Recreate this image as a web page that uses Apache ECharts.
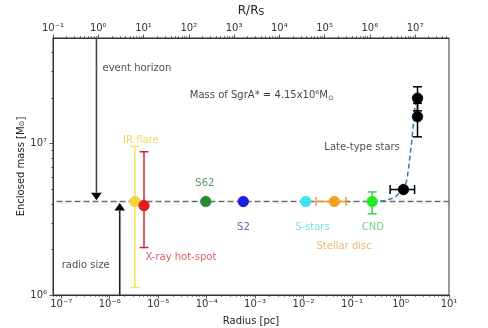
<!DOCTYPE html>
<html>
<head>
<meta charset="utf-8">
<script src="https://cdn.jsdelivr.net/npm/echarts@6/dist/echarts.min.js"></script>
<style>
  html, body { margin: 0; padding: 0; background: #fff; }
  #chart { width: 488px; height: 328px; }
</style>
</head>
<body>
<div id="chart"></div>
<script>
// Enclosed mass around Sgr A* as a function of radius, from different tracers.

const FONT = 'DejaVu Sans';
const MASS_SGRA = 4.15e6;           // [Msun]

// Tracers: radius [pc], enclosed mass [Msun] and their uncertainties
const tracerNames    = ['IR flare', 'X-ray hot-spot', 'S62', 'S2', 'S-stars', 'Stellar disc', 'CND'];
const tracerRadius   = [3.3e-6, 5.1e-6, 9.6e-5, 5.7e-4, 1.11e-2, 0.0432, 0.26];
const tracerMass     = [4.15e6, 3.9e6, 4.15e6, 4.15e6, 4.15e6, 4.15e6, 4.15e6];
const tracerMassLo   = [1.12e6, 2.06e6, null, null, null, null, 3.44e6];
const tracerMassHi   = [9.6e6, 8.85e6, null, null, null, null, 4.8e6];
const tracerRadiusLo = [null, null, null, null, null, 0.018, null];
const tracerRadiusHi = [null, null, null, null, null, 0.075, null];

// Late-type stars
const lateRadius   = [1.15, 2.24, 2.24];
const lateMass     = [4.98e6, 1.51e7, 2.0e7];
const lateMassLo   = [null, 1.11e7, 1.65e7];
const lateMassHi   = [null, 1.85e7, 2.38e7];
const lateRadiusLo = [0.61, null, null];
const lateRadiusHi = [1.95, null, null];

// Black hole + nuclear star cluster model
const modelRadius = [0.26, 0.38, 0.66, 0.84, 1.29, 1.42, 1.51, 1.58, 1.72, 1.85, 2.01, 2.06];
const modelMass   = [4.15e6, 4.16e6, 4.34e6, 4.54e6, 5.51e6, 6.42e6, 7.48e6, 8.5e6, 1.07e7, 1.38e7, 1.78e7, 2.0e7];

// Size markers: event horizon (arrow from above) and radio size (arrow from below)
const markerNames  = ['event horizon', 'radio size'];
const markerRadius = [5.33e-7, 1.61e-6];
const markerFrom   = [5e7, 1e6];
const markerTip    = [4.23e6, 4.06e6];

// Axis ranges and decade tick labels
const radiusRange  = [6.76e-8, 10];
const rsRange      = [0.1, 5.62e7];
const massRange    = [1e6, 5e7];
const radiusDecades = [-7, -6, -5, -4, -3, -2, -1, 0, 1];
const rsDecades     = [-1, 0, 1, 2, 3, 4, 5, 6, 7];
const massDecades   = [6, 7];

// Colours of each tracer: [marker, error bar, text]
const tracerColors = {
  'IR flare':       ['#f2d43c', '#f4e35a', '#e8cc3e'],
  'X-ray hot-spot': ['#e8171d', '#c42a35', '#cf3340'],
  'S62':            ['#2a8a2e', '#2a8a2e', '#2e7d32'],
  'S2':             ['#1c1ce0', '#1c1ce0', '#2a3aa8'],
  'S-stars':        ['#3fe3ef', '#3fe3ef', '#4fd4e4'],
  'Stellar disc':   ['#f6a11e', '#ec9a38', '#e2a64c'],
  'CND':            ['#20ec22', '#44cc44', '#58c258']
};

// Text annotations in data coordinates
const annotations = [
  { text: 'IR flare',       at: [4.39e-6, 1.056e7], color: tracerColors['IR flare'][2], align: 'center' },
  { text: 'X-ray hot-spot', at: [2.94e-5, 1.77e6],  color: tracerColors['X-ray hot-spot'][2], align: 'center' },
  { text: 'S62',            at: [9.2e-5, 5.43e6],   color: tracerColors['S62'][2], align: 'center' },
  { text: 'S2',             at: [5.75e-4, 2.81e6],  color: tracerColors['S2'][2], align: 'center' },
  { text: 'S-stars',        at: [1.52e-2, 2.81e6],  color: tracerColors['S-stars'][2], align: 'center' },
  { text: 'Stellar disc',   at: [6.86e-2, 2.09e6],  color: tracerColors['Stellar disc'][2], align: 'center' },
  { text: 'CND',            at: [0.268, 2.81e6],    color: tracerColors['CND'][2], align: 'center' },
  { text: 'Late-type stars', at: [0.161, 9.4e6],    color: '#222', align: 'center' },
  { text: 'event horizon',  at: [7.1e-7, 3.16e7],   color: '#222', align: 'left' },
  { text: 'radio size',     at: [3.2e-7, 1.565e6],  color: '#222', align: 'center' },
  { text: '{t|Mass of SgrA* = 4.15x10\u2076M}{u|\u2299}', at: [4.5e-5, 2.1e7], color: '#111', align: 'left' }
];

const pow10 = e => Number('1e' + e);
const SUP = { '-': '\u207B', '0': '\u2070', '1': '\u00B9', '2': '\u00B2', '3': '\u00B3', '4': '\u2074',
              '5': '\u2075', '6': '\u2076', '7': '\u2077', '8': '\u2078', '9': '\u2079' };
const minorValues = (decades, range) => {
  const out = [];
  for (let e = decades[0] - 1; e <= decades[decades.length - 1]; e++) {
    for (let k = 2; k <= 9; k++) {
      const v = Number(k + 'e' + e);
      if (v > range[0] && v < range[1]) out.push(v);
    }
  }
  return out;
};
const powLabel = v => {
  const e = Math.round(Math.log10(v));
  return '10' + String(e).split('').map(c => SUP[c]).join('');
};

const textRich = {
  t: { fontFamily: FONT, fontSize: 10, color: '#111', lineHeight: 14 },
  u: { fontFamily: FONT, fontSize: 7, color: '#111', lineHeight: 10, verticalAlign: 'bottom' }
};

function majorAxis(extra) {
  return Object.assign({
    type: 'log',
    logBase: 10,
    nameMoveOverlap: false,
    splitLine: { show: false },
    axisLine: { show: true, lineStyle: { color: '#333', width: 1 } },
    nameTextStyle: { fontFamily: FONT, fontSize: 10, color: '#222' }
  }, extra);
}
function minorAxis(extra, values) {
  return Object.assign({
    type: 'log',
    logBase: 10,
    splitLine: { show: false },
    axisLine: { show: false },
    axisLabel: { show: false },
    axisTick: { show: true, inside: false, length: 2, customValues: values, lineStyle: { color: '#333', width: 0.6 } }
  }, extra);
}
const majorTick = values => ({ show: true, inside: false, length: 3.5, customValues: values, lineStyle: { color: '#333', width: 0.8 } });
const majorLabel = (values, margin) => ({
  show: true, customValues: values, formatter: powLabel, margin: margin,
  fontFamily: FONT, fontSize: 10, color: '#333'
});

const radiusMajors = radiusDecades.map(pow10);
const rsMajors = rsDecades.map(pow10);
const massMajors = massDecades.map(pow10);

const xAxes = [
  majorAxis({
    position: 'bottom', min: radiusRange[0], max: radiusRange[1],
    name: 'Radius [pc]', nameLocation: 'middle', nameGap: 21,
    axisTick: majorTick(radiusMajors),
    axisLabel: majorLabel(radiusMajors, 4)
  }),
  majorAxis({
    position: 'top', min: rsRange[0], max: rsRange[1],
    name: 'R/R{u|S}', nameLocation: 'middle', nameGap: 21,
    nameTextStyle: {
      fontFamily: FONT, fontSize: 12, color: '#222',
      rich: {
        u: { fontFamily: FONT, fontSize: 9, color: '#222', lineHeight: 12, verticalAlign: 'bottom' }
      }
    },
    axisTick: majorTick(rsMajors),
    axisLabel: majorLabel(rsMajors, 5)
  }),
  minorAxis({ position: 'bottom', min: radiusRange[0], max: radiusRange[1] }, minorValues(radiusDecades, radiusRange)),
  minorAxis({ position: 'top', min: rsRange[0], max: rsRange[1] }, minorValues(rsDecades, rsRange))
];
const yAxes = [
  majorAxis({
    position: 'left', min: massRange[0], max: massRange[1],
    name: 'Enclosed mass [M{u|\u2299}]', nameLocation: 'middle', nameGap: 27, nameRotate: 90,
    nameTextStyle: {
      fontFamily: FONT, fontSize: 10, color: '#222',
      rich: {
        u: { fontFamily: FONT, fontSize: 7, color: '#222', lineHeight: 10, verticalAlign: 'bottom' }
      }
    },
    axisTick: majorTick(massMajors),
    axisLabel: majorLabel(massMajors, 6)
  }),
  minorAxis({ position: 'left', min: massRange[0], max: massRange[1] }, minorValues(massDecades, massRange))
];

// Error bar records: [x, y, lo, hi] with the colour of the tracer
const yErrors = [], xErrors = [], points = [];
tracerNames.forEach((name, i) => {
  const [mk, eb] = tracerColors[name];
  points.push({ value: [tracerRadius[i], tracerMass[i]], itemStyle: { color: mk, borderColor: mk } });
  if (tracerMassLo[i] != null) yErrors.push({ value: [tracerRadius[i], tracerMass[i], tracerMassLo[i], tracerMassHi[i]], itemStyle: { color: eb } });
  if (tracerRadiusLo[i] != null) xErrors.push({ value: [tracerRadius[i], tracerMass[i], tracerRadiusLo[i], tracerRadiusHi[i]], itemStyle: { color: eb } });
});
lateRadius.forEach((r, i) => {
  points.push({ value: [r, lateMass[i]], itemStyle: { color: '#000', borderColor: '#000' } });
  if (lateMassLo[i] != null) yErrors.push({ value: [r, lateMass[i], lateMassLo[i], lateMassHi[i]], itemStyle: { color: '#000' } });
  if (lateRadiusLo[i] != null) xErrors.push({ value: [r, lateMass[i], lateRadiusLo[i], lateRadiusHi[i]], itemStyle: { color: '#000' } });
});

const CAP = 4.5;
function renderYError(params, api) {
  const x = api.value(0), lo = api.value(2), hi = api.value(3);
  const a = api.coord([x, lo]), b = api.coord([x, hi]);
  const style = { stroke: api.visual('color'), lineWidth: 1.5 };
  return {
    type: 'group',
    children: [
      { type: 'line', shape: { x1: a[0], y1: a[1], x2: b[0], y2: b[1] }, style },
      { type: 'line', shape: { x1: a[0] - CAP, y1: a[1], x2: a[0] + CAP, y2: a[1] }, style },
      { type: 'line', shape: { x1: b[0] - CAP, y1: b[1], x2: b[0] + CAP, y2: b[1] }, style }
    ]
  };
}
function renderXError(params, api) {
  const y = api.value(1), lo = api.value(2), hi = api.value(3);
  const a = api.coord([lo, y]), b = api.coord([hi, y]);
  const style = { stroke: api.visual('color'), lineWidth: 1.5 };
  return {
    type: 'group',
    children: [
      { type: 'line', shape: { x1: a[0], y1: a[1], x2: b[0], y2: b[1] }, style },
      { type: 'line', shape: { x1: a[0], y1: a[1] - CAP, x2: a[0], y2: a[1] + CAP }, style },
      { type: 'line', shape: { x1: b[0], y1: b[1] - CAP, x2: b[0], y2: b[1] + CAP }, style }
    ]
  };
}
function renderArrow(params, api) {
  const r = api.value(0);
  const from = api.coord([r, api.value(1)]);
  const tip = api.coord([r, api.value(2)]);
  const dir = tip[1] > from[1] ? 1 : -1;
  const headLen = 7.5, headHalf = 5.3;
  const base = tip[1] - dir * headLen;
  return {
    type: 'group',
    children: [
      { type: 'line', shape: { x1: from[0], y1: from[1], x2: tip[0], y2: base },
        style: { stroke: api.visual('color'), lineWidth: 1.6 } },
      { type: 'polygon', shape: { points: [[tip[0], tip[1]], [tip[0] - headHalf, base], [tip[0] + headHalf, base]] },
        style: { fill: '#000' } }
    ]
  };
}

const option = {
  backgroundColor: '#fff',
  animation: false,
  textStyle: { fontFamily: FONT },
  grid: {
    left: 53, right: 39, top: 38, bottom: 33,
    outerBoundsMode: 'none', containLabel: false,
    show: true, borderColor: '#333', borderWidth: 1, backgroundColor: 'transparent'
  },
  xAxis: xAxes,
  yAxis: yAxes,
  series: [
    {
      name: 'Sgr A* mass', type: 'line', xAxisIndex: 0, yAxisIndex: 0, z: 1,
      data: [[8e-8, MASS_SGRA], [radiusRange[1], MASS_SGRA]],
      symbol: 'none', silent: true,
      lineStyle: { color: '#6b6b6b', width: 1.3, type: [6, 3] }
    },
    {
      name: 'model', type: 'line', xAxisIndex: 0, yAxisIndex: 0, z: 2,
      data: modelRadius.map((r, i) => [r, modelMass[i]]),
      symbol: 'none', smooth: 0.3, silent: true,
      lineStyle: { color: '#2f7db4', width: 1.5, type: [5, 3] }
    },
    {
      name: 'size markers', type: 'custom', xAxisIndex: 0, yAxisIndex: 0, z: 3,
      renderItem: renderArrow,
      data: markerNames.map((n, i) => ({ value: [markerRadius[i], markerFrom[i], markerTip[i]], itemStyle: { color: i === 0 ? '#4a4a4a' : '#222' } }))
    },
    {
      name: 'mass errors', type: 'custom', xAxisIndex: 0, yAxisIndex: 0, z: 4,
      renderItem: renderYError, data: yErrors
    },
    {
      name: 'radius errors', type: 'custom', xAxisIndex: 0, yAxisIndex: 0, z: 4,
      renderItem: renderXError, data: xErrors
    },
    {
      name: 'tracers', type: 'scatter', xAxisIndex: 0, yAxisIndex: 0, z: 5,
      symbol: 'circle', symbolSize: 10.5, data: points,
      itemStyle: { borderWidth: 0.8, opacity: 1 }
    },
    {
      name: 'annotations', type: 'scatter', xAxisIndex: 0, yAxisIndex: 0, z: 6,
      symbolSize: 0, silent: true,
      data: annotations.map(a => ({
        value: a.at,
        label: {
          show: true, position: 'inside', formatter: a.text, align: a.align,
          fontFamily: FONT, fontSize: 10, color: a.color,
          rich: textRich
        }
      }))
    }
  ]
};

const chart = echarts.init(document.getElementById('chart'), null, { renderer: 'canvas' });
chart.setOption(option);
</script>
</body>
</html>
